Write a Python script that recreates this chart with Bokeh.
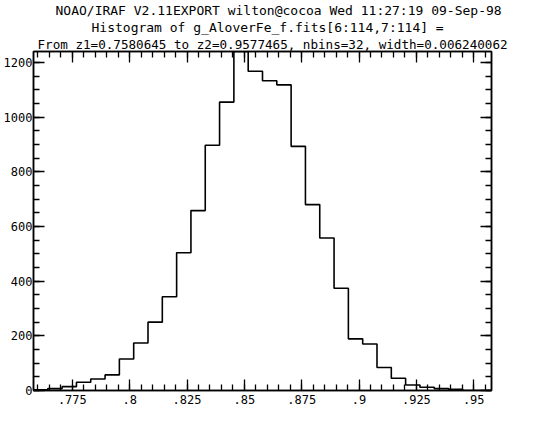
from bokeh.plotting import figure
from bokeh.models import Range1d, LinearAxis, FixedTicker, CustomJSTickFormatter, Title
from bokeh.embed import file_html
from bokeh.resources import INLINE
import numpy as np

# ---- data ----
title_lines = [
    "NOAO/IRAF V2.11EXPORT wilton@cocoa Wed 11:27:19 09-Sep-98",
    "Histogram of g_AloverFe_f.fits[6:114,7:114] =",
    "From z1=0.7580645 to z2=0.9577465, nbins=32, width=0.006240062",
]
z1 = 0.7580645
z2 = 0.9577465
nbins = 32
bin_width = 0.006240062
counts = [3, 7, 14, 30, 42, 57, 115, 174, 250, 343, 504, 658, 897, 1055, 1240, 1168,
          1133, 1118, 893, 680, 558, 374, 189, 170, 84, 45, 20, 12, 7, 4, 0, 0]
x_major = [0.775, 0.8, 0.825, 0.85, 0.875, 0.9, 0.925, 0.95]
x_labels = [".775", ".8", ".825", ".85", ".875", ".9", ".925", ".95"]
y_major = [0, 200, 400, 600, 800, 1000, 1200]
x_minor_step = 0.005
y_minor_step = 50

FONT = "DejaVu Sans Mono"

# ---- step outline of the histogram ----
edges = [z1 + i * bin_width for i in range(nbins + 1)]
xs = [edges[0]]
ys = [0]
for i, c in enumerate(counts):
    xs += [edges[i], edges[i + 1]]
    ys += [c, c]
xs.append(edges[-1])
ys.append(0)

p = figure(width=517, height=406, output_backend="svg", toolbar_location=None,
           x_range=Range1d(z1, z2), y_range=Range1d(0, max(counts)),
           min_border_left=30, min_border_right=26, min_border_top=0,
           min_border_bottom=0, title=None)
p.xgrid.visible = False
p.ygrid.visible = False
p.outline_line_color = "black"
p.outline_line_width = 1.5
p.background_fill_color = "white"
p.border_fill_color = "white"

x_minor = list(np.round(np.arange(0.76, 0.9576, x_minor_step), 4))
y_minor = list(range(0, 1250, y_minor_step))
xticker = FixedTicker(ticks=x_major, minor_ticks=x_minor)
yticker = FixedTicker(ticks=y_major, minor_ticks=y_minor)

xfmt = CustomJSTickFormatter(args=dict(vals=x_major, labs=x_labels), code="""
const i = vals.findIndex(v => Math.abs(v - tick) < 1e-9);
return i >= 0 ? labs[i] : '';
""")
blank = CustomJSTickFormatter(code="return '';")


def style(ax, labelled, standoff=3):
    ax.axis_line_color = "black"
    ax.axis_line_width = 1.5
    ax.major_tick_in = 11
    ax.major_tick_out = 0
    ax.minor_tick_in = 6
    ax.minor_tick_out = 0
    ax.major_tick_line_color = "black"
    ax.minor_tick_line_color = "black"
    ax.major_tick_line_width = 1.3
    ax.minor_tick_line_width = 1.3
    ax.major_label_text_font = FONT
    ax.major_label_text_font_style = "normal"
    ax.major_label_text_color = "black"
    if labelled:
        ax.major_label_text_font_size = "12px"
        ax.major_label_standoff = standoff
    else:
        ax.major_label_text_font_size = "0px"
        ax.major_label_standoff = 0


p.xaxis.ticker = xticker
p.xaxis.formatter = xfmt
p.yaxis.ticker = yticker
for ax in p.xaxis:
    style(ax, True, 4)
for ax in p.yaxis:
    style(ax, True, 1)

top = LinearAxis(ticker=xticker, formatter=blank)
style(top, False)
p.add_layout(top, "above")
right = LinearAxis(ticker=yticker, formatter=blank)
style(right, False)
p.add_layout(right, "right")

p.line(xs, ys, line_color="black", line_width=1.6)

# ---- three-line header (bottom line added first so it sits nearest the frame) ----
title_offsets = [22, 58, 4]
title_sizes = ["13px", "13px", "12.6px"]
for line, off, size in reversed(list(zip(title_lines, title_offsets, title_sizes))):
    p.add_layout(Title(text=line, align="left", offset=off, text_font=FONT,
                       text_font_size=size, text_font_style="normal", text_color="black",
                       text_line_height=1.0, standoff=0), "above")

open("out.html", "w").write(file_html(p, INLINE))
